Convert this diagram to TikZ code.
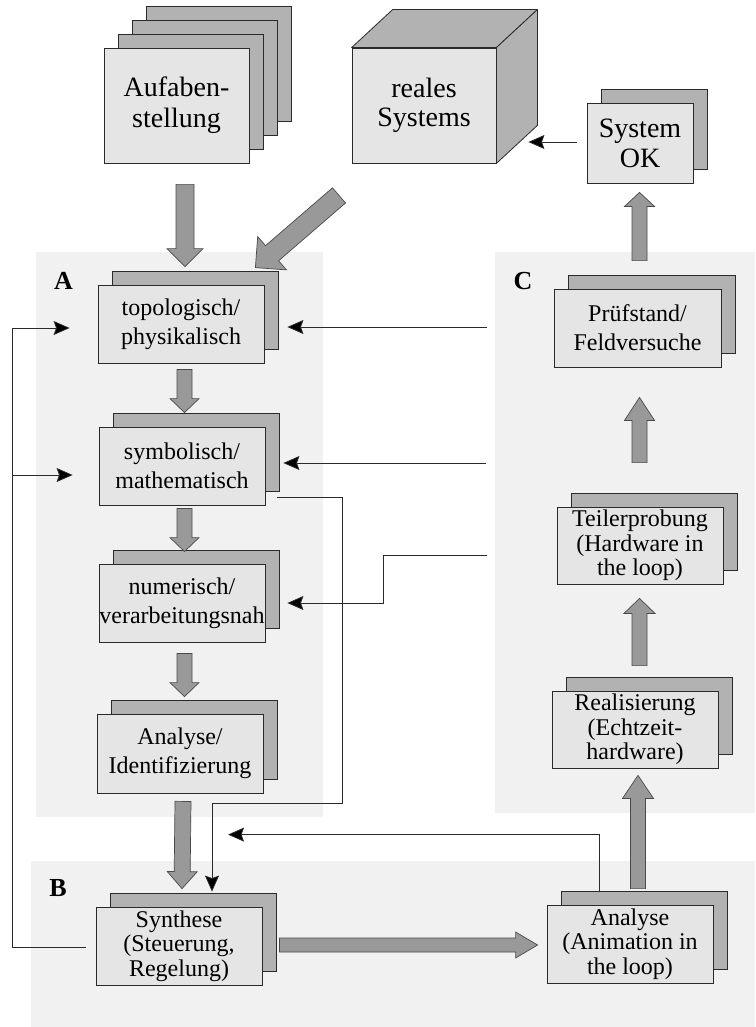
\documentclass[tikz,border=0pt]{standalone}
\usepackage{fontspec}
\setmainfont{Liberation Serif}
\usetikzlibrary{calc,shadows,arrows.meta}
\definecolor{regiongray}{HTML}{F1F1F1}
\definecolor{frontgray}{HTML}{E5E5E5}
\definecolor{backgray}{HTML}{B2B2B2}
\definecolor{arrowgray}{HTML}{999999}
\definecolor{edgegray}{HTML}{2A2A2A}
\tikzset{
  region/.style={fill=regiongray, draw=none},
  sheetcopy/.style={copy shadow={shadow xshift=#1, shadow yshift=#1, fill=backgray, draw=edgegray, line width=0.8pt}},
  cardbase/.style={draw=edgegray, line width=0.8pt, fill=frontgray, inner sep=0pt, align=center},
  card/.style={cardbase, sheetcopy=14pt, minimum width=166pt, minimum height=78pt, font=\fontsize{24}{29}\selectfont},
  card3/.style={card, font=\fontsize{24}{24.5}\selectfont},
  fat/.style={fill=arrowgray, draw=edgegray!85, line width=0.7pt, line join=miter},
  conn/.style={draw=edgegray, line width=0.8pt, -{Stealth[length=16pt, width=14pt, inset=2.5pt, fill=black]}},
  lab/.style={font=\fontsize{26}{26}\selectfont\bfseries, inner sep=0pt}
}
% #1 tail, #2 tip, #3 half shaft width, #4 half head width, #5 head length
\newcommand\fatarrow[5]{%
  \coordinate (fah) at ($(#2)!#5!(#1)$);
  \filldraw[fat] ($(#1)!#3!90:(#2)$) -- ($(fah)!#3!90:(#2)$) -- ($(fah)!#4!90:(#2)$) -- (#2)
     -- ($(fah)!#4!-90:(#2)$) -- ($(fah)!#3!-90:(#2)$) -- ($(#1)!#3!-90:(#2)$) -- cycle;}
\begin{document}
\begin{tikzpicture}[x=1pt, y=-1pt]
\useasboundingbox (0,0) rectangle (755,1027);
% regions
\fill[region] (36,252) rectangle (323,817);
\fill[region] (495,252) rectangle (755,813);
\fill[region] (31,861) rectangle (755,1027);
\node[lab] (labA) at (63.5,281) {A};
\node[lab] (labB) at (58,888) {B};
\node[lab] (labC) at (523,281) {C};

% top items
\node[cardbase, sheetcopy=42pt, sheetcopy=28pt, sheetcopy=14pt, minimum width=145pt, minimum height=115pt,
      font=\fontsize{28}{31}\selectfont] (auf) at (176.5,105.5) {Aufaben-\\stellung};
\node[cardbase, minimum width=144pt, minimum height=115pt, font=\fontsize{28}{29}\selectfont] (cube) at (424,105.5) {reales\\Systems};
\filldraw[fill=backgray, draw=edgegray, line width=0.8pt, line join=round] (cube.north west) -- ++(41,-38) -- ($(cube.north east)+(41,-38)$) -- (cube.north east) -- cycle;
\filldraw[fill=backgray, draw=edgegray, line width=0.8pt, line join=round] (cube.north east) -- ++(41,-38) -- ($(cube.south east)+(41,-38)$) -- (cube.south east) -- cycle;
\node[cardbase, sheetcopy=14pt, minimum width=106pt, minimum height=80pt, font=\fontsize{28}{30}\selectfont] (sysok) at (640,143) {System\\OK};

% region A
\node[card] (topo) at (181,324) {topologisch/\\physikalisch};
\node[card] (symb) at (182,466) {symbolisch/\\mathematisch};
\node[card] (num) at (182,603) {numerisch/\\verarbeitungsnah};
\node[card, minimum height=79pt] (anaId) at (180,753.5) {Analyse/\\Identifizierung};
% region B
\node[card3] (synth) at (179,946) {Synthese\\(Steuerung,\\Regelung)};
\node[card3] (anaAn) at (630,944) {Analyse\\(Animation in\\the loop)};
% region C
\node[card, minimum width=167pt] (pruef) at (637.5,328) {Prüfstand/\\Feldversuche};
\node[card3, minimum height=77pt] (teil) at (640,545.5) {Teilerprobung\\(Hardware in\\the loop)};
\node[card3, minimum height=77pt] (real) at (635,729.5) {Realisierung\\(Echtzeit-\\hardware)};

% thick arrows
\coordinate (a1) at ($(auf.south)+(8.5,21)$);   \coordinate (b1) at ($(topo.north)+(4,-18)$);
\fatarrow{a1}{b1}{9pt}{18pt}{18pt}
\coordinate (a2) at ($(cube.south)+(-85,32)$);  \coordinate (b2) at ($(topo.north east)+(-9,-17)$);
\fatarrow{a2}{b2}{10pt}{22pt}{22pt}
\coordinate (a3) at ($(topo.south)+(3.5,6)$);   \coordinate (b3) at ($(symb.north)+(2.5,-14)$);
\fatarrow{a3}{b3}{7.5pt}{14.5pt}{14pt}
\coordinate (a4) at ($(symb.south)+(2.5,3)$);   \coordinate (b4) at ($(num.north)+(2.5,-12)$);
\fatarrow{a4}{b4}{7.5pt}{14.5pt}{14pt}
\coordinate (a5) at ($(num.south)+(2.5,11)$);   \coordinate (b5) at ($(anaId.north)+(4.5,-17)$);
\fatarrow{a5}{b5}{7.5pt}{14.5pt}{14pt}
\coordinate (a6) at ($(anaId.south)+(3,8)$);    \coordinate (b6) at ($(synth.north)+(3,-18)$);
\fatarrow{a6}{b6}{8pt}{15pt}{17pt}
\coordinate (a7) at ($(synth.east)+(17,-1)$);   \coordinate (b7) at ($(anaAn.west)+(-9,1)$);
\fatarrow{a7}{b7}{7pt}{13pt}{22pt}
\coordinate (a8) at ($(anaAn.north)+(8,-16)$);  \coordinate (b8) at ($(real.south)+(3,7)$);
\fatarrow{a8}{b8}{7.5pt}{15.5pt}{23pt}
\coordinate (a9) at ($(real.north)+(4.5,-25)$); \coordinate (b9) at ($(teil.south)+(-0.5,14)$);
\fatarrow{a9}{b9}{7.5pt}{15.5pt}{15pt}
\coordinate (a10) at ($(teil.north)+(-0.5,-44)$); \coordinate (b10) at ($(pruef.south)+(2,30)$);
\fatarrow{a10}{b10}{7.5pt}{15pt}{23pt}
\coordinate (a11) at ($(pruef.north)+(2,-28)$); \coordinate (b11) at ($(sysok.south)+(-0.5,9)$);
\fatarrow{a11}{b11}{7.5pt}{15pt}{14pt}

% thin connectors
\draw[conn] ($(sysok.west)+(-10,-1)$) -- ($(cube.east)+(32,36.5)$);
\draw[conn] ($(synth.west)+(-10,1)$) -- ++(-73,0) |- ($(topo.west)+(-28,4)$);
\coordinate (lbr) at ($(symb.west)+(-86,9)$);
\draw[conn] (lbr) -- ($(symb.west)+(-26,9)$);
\draw[conn] ($(pruef.west)+(-67,-1)$) -- ($(topo.east)+(23,3)$);
\draw[conn] ($(symb.east)+(221,-3)$) -- ($(symb.east)+(18,-3)$);
\draw[conn] ($(num.east)+(222,-48)$) -- ++(-104,0) |- ($(num.east)+(22,0)$);
\draw[conn] ($(symb.east)+(12,31)$) -- ++(65,0) -- ++(0,306) -| ($(synth.north)+(33,-15)$);
\draw[conn] ($(anaAn.north)+(-31,-14)$) -- ++(0,-56) -- ($(synth.north)+(49,-72)$);
\end{tikzpicture}
\end{document}
